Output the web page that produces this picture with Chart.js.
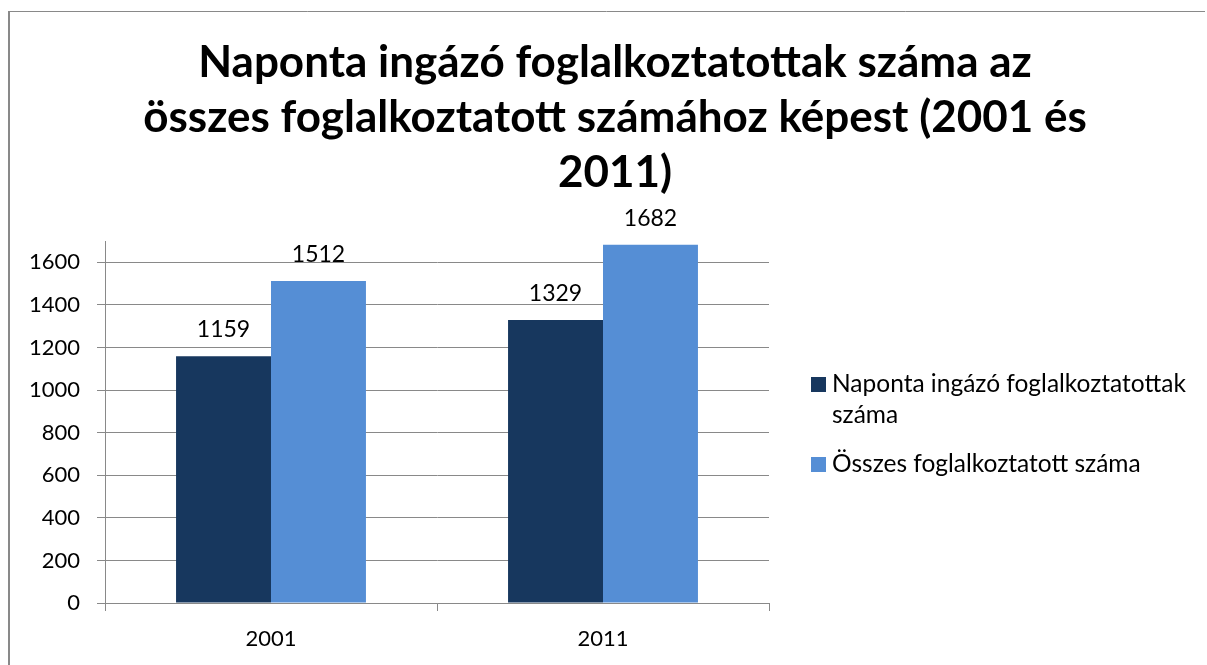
<!DOCTYPE html>
<html>
<head>
<meta charset="utf-8">
<script src="https://cdn.jsdelivr.net/npm/chart.js@4.4.1/dist/chart.umd.min.js"></script>
<style>
  html, body { margin: 0; padding: 0; background: #fff; overflow: hidden; }
  canvas { display: block; }
</style>
</head>
<body>
<canvas id="c" width="1207" height="665"></canvas>
<script>
// Census figures: daily commuters vs. all employed, 2001 and 2011
const years = ['2001', '2011'];
const commuters = [1159, 1329];
const employedTotal = [1512, 1682];
const seriesNames = ['Naponta ingázó foglalkoztatottak száma', 'Összes foglalkoztatott száma'];
const yTicks = [0, 200, 400, 600, 800, 1000, 1200, 1400, 1600];
const titleLines = [
  'Naponta ingázó foglalkoztatottak száma az',
  'összes foglalkoztatott számához képest (2001 és',
  '2011)'
];

const AXIS_GREY = '#898989';
const FONT = 'Lato';

// white background and the outer frame of the chart box
const frame = {
  id: 'frame',
  beforeDraw(chart) {
    const ctx = chart.ctx;
    ctx.save();
    ctx.fillStyle = '#fff';
    ctx.fillRect(0, 0, chart.width, chart.height);
    ctx.strokeStyle = AXIS_GREY;
    ctx.lineWidth = 2;
    ctx.beginPath();
    ctx.moveTo(9, chart.height);
    ctx.lineTo(9, 11);
    ctx.stroke();
    ctx.lineWidth = 1;
    ctx.beginPath();
    ctx.moveTo(8, 11.5);
    ctx.lineTo(1205, 11.5);
    ctx.stroke();
    ctx.restore();
  }
};

// three-line bold heading
const heading = {
  id: 'heading',
  afterDraw(chart) {
    const ctx = chart.ctx;
    ctx.save();
    ctx.font = 'bold 44px ' + FONT;
    ctx.fillStyle = '#000';
    ctx.textAlign = 'center';
    ctx.textBaseline = 'alphabetic';
    titleLines.forEach((t, i) => ctx.fillText(t, 615, 77 + i * 55));
    ctx.restore();
  }
};

// value written above every bar
const valueLabels = {
  id: 'valueLabels',
  afterDatasetsDraw(chart) {
    const ctx = chart.ctx;
    ctx.save();
    ctx.font = '23px ' + FONT;
    ctx.fillStyle = '#000';
    ctx.textAlign = 'center';
    ctx.textBaseline = 'alphabetic';
    chart.data.datasets.forEach((ds, di) => {
      chart.getDatasetMeta(di).data.forEach((bar, i) => {
        ctx.fillText(String(ds.data[i]), bar.x, bar.y - 19);
      });
    });
    ctx.restore();
  }
};

function wrapText(ctx, text, maxWidth) {
  const words = text.split(' ');
  const lines = [];
  let cur = '';
  words.forEach(w => {
    const test = cur ? cur + ' ' + w : w;
    if (cur && ctx.measureText(test).width > maxWidth) {
      lines.push(cur);
      cur = w;
    } else {
      cur = test;
    }
  });
  if (cur) lines.push(cur);
  return lines;
}

// legend on the right with wrapped entries
const sideLegend = {
  id: 'sideLegend',
  afterDraw(chart) {
    const ctx = chart.ctx;
    ctx.save();
    ctx.font = '24.5px ' + FONT;
    ctx.textBaseline = 'alphabetic';
    ctx.textAlign = 'left';
    let y = 392;
    chart.data.datasets.forEach(ds => {
      const lines = wrapText(ctx, ds.label, 372);
      ctx.fillStyle = ds.backgroundColor;
      ctx.fillRect(811, y - 15, 15, 15);
      ctx.fillStyle = '#000';
      lines.forEach((ln, k) => ctx.fillText(ln, 832, y + k * 31));
      y += (lines.length - 1) * 31 + 49;
    });
    ctx.restore();
  }
};

new Chart(document.getElementById('c'), {
  type: 'bar',
  data: {
    labels: years,
    datasets: [
      { label: seriesNames[0], data: commuters, backgroundColor: '#17375E' },
      { label: seriesNames[1], data: employedTotal, backgroundColor: '#558ED5' }
    ]
  },
  options: {
    responsive: false,
    animation: false,
    layout: { padding: { left: 0, top: 241, right: 438, bottom: 0 } },
    datasets: { bar: { categoryPercentage: 0.572, barPercentage: 1 } },
    plugins: {
      legend: { display: false },
      title: { display: false },
      tooltip: { enabled: false }
    },
    scales: {
      x: {
        grid: { display: true, drawOnChartArea: false, drawTicks: true, tickLength: 8, color: AXIS_GREY, offset: true },
        border: { display: true, color: AXIS_GREY },
        ticks: { color: '#000', font: { family: FONT, size: 22 }, padding: 15 },
        afterFit(s) { s.height = 62; }
      },
      y: {
        min: 0,
        max: 1700,
        bounds: 'data',
        afterBuildTicks(s) { s.ticks = yTicks.map(v => ({ value: v })); },
        grid: { color: AXIS_GREY, tickLength: 8 },
        border: { display: true, color: AXIS_GREY },
        ticks: { color: '#000', font: { family: FONT, size: 22 }, padding: 17, callback: v => String(v) },
        afterFit(s) { s.width = 105; }
      }
    }
  },
  plugins: [frame, valueLabels, heading, sideLegend]
});
</script>
</body>
</html>
